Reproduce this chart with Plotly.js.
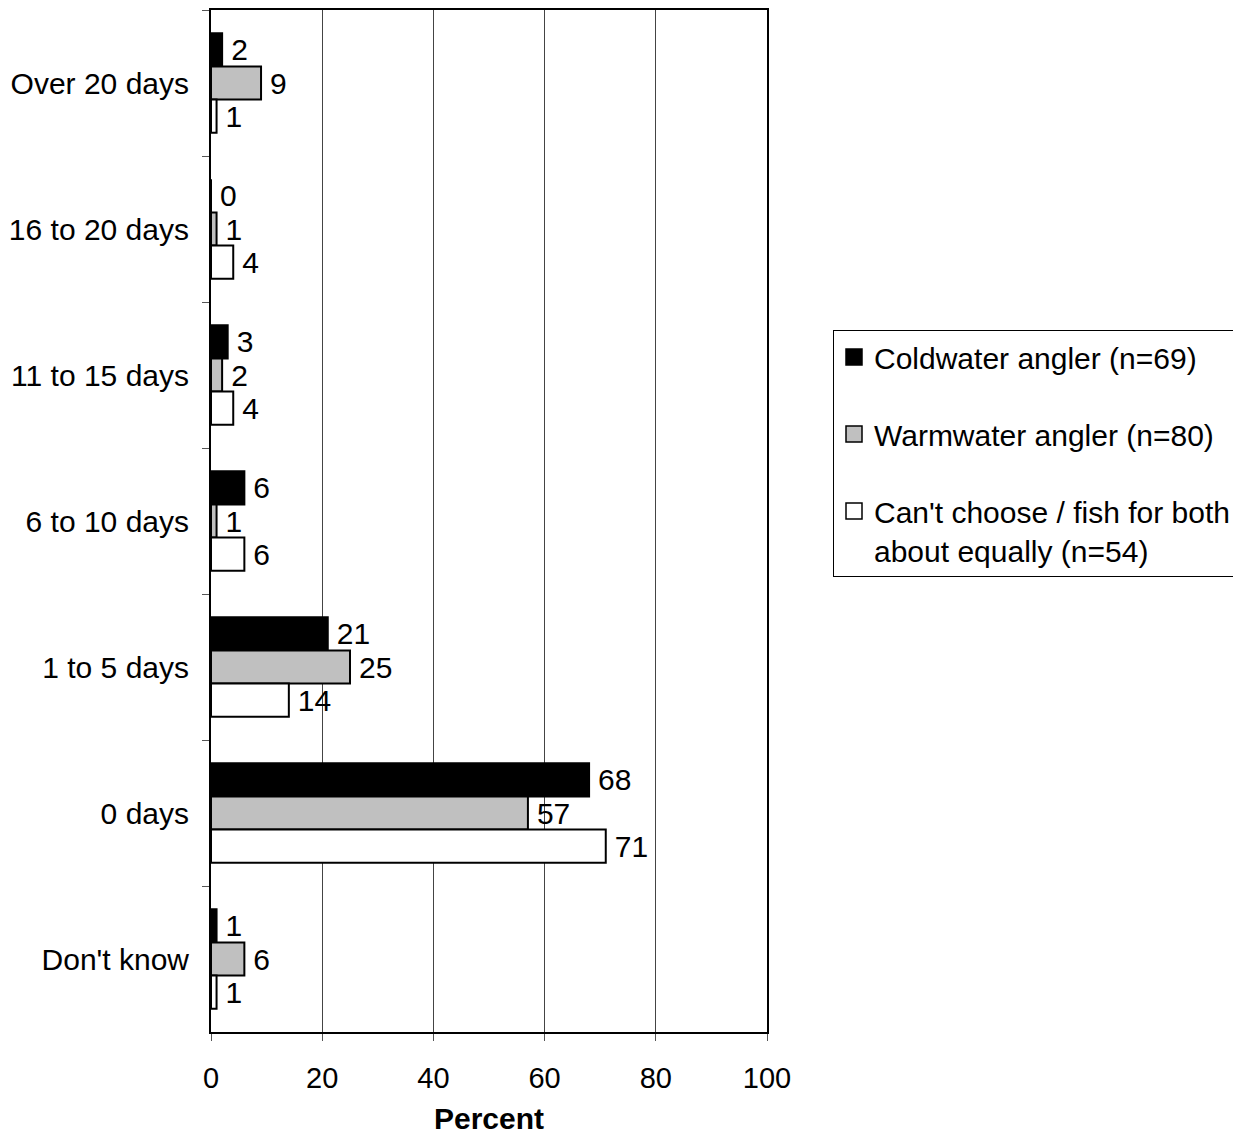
<!DOCTYPE html>
<html>
<head>
<meta charset="utf-8">
<script src="https://cdn.plot.ly/plotly-3.0.1.min.js"></script>
<style>html,body{margin:0;padding:0;background:#fff;}#chart{width:1233px;height:1139px;}</style>
</head>
<body>
<div id="chart"></div>
<script>
var categories = ["Over 20 days", "16 to 20 days", "11 to 15 days", "6 to 10 days", "1 to 5 days", "0 days", "Don't know"];
var seriesNames = ["Coldwater angler (n=69)", "Warmwater angler (n=80)", "Can't choose / fish for both<br>about equally (n=54)"];
var coldwater = [2, 0, 3, 6, 21, 68, 1];
var warmwater = [9, 1, 2, 1, 25, 57, 6];
var cantChoose = [1, 4, 4, 6, 14, 71, 1];
var xTicks = [0, 20, 40, 60, 80, 100];
var xTitle = "Percent";

var FONT = "Arial, 'Liberation Sans', sans-serif";
var fills = ["#000000", "#c0c0c0", "#ffffff"];
var series = [coldwater, warmwater, cantChoose];

var traces = series.map(function (vals, i) {
  return {
    type: "bar",
    orientation: "h",
    name: seriesNames[i],
    legendgroup: "g" + i,
    showlegend: false,
    y: categories,
    x: vals,
    text: vals.map(function (v) { return "\u2009" + v; }),
    texttemplate: "%{text}",
    textposition: "outside",
    constraintext: "none",
    cliponaxis: false,
    outsidetextfont: { family: FONT, size: 30, color: "#000" },
    marker: { color: fills[i], line: { color: "#000", width: 2 } },
    hoverinfo: "x+y+name"
  };
});

// legend entries (square swatches like the original)
series.forEach(function (vals, i) {
  traces.push({
    type: "scatter",
    mode: "markers",
    name: seriesNames[i],
    legendgroup: "g" + i,
    showlegend: true,
    x: [null],
    y: [null],
    marker: { symbol: "square", size: 19, color: fills[i], line: { color: "#000", width: 1.5 } },
    hoverinfo: "skip"
  });
});

var layout = {
  width: 1233,
  height: 1139,
  paper_bgcolor: "#fff",
  plot_bgcolor: "#fff",
  font: { family: FONT, size: 30, color: "#000" },
  margin: { l: 211, r: 466, t: 10, b: 107, autoexpand: false },
  barmode: "group",
  bargap: 0.32,
  bargroupgap: 0,
  showlegend: true,
  legend: {
    x: (833 - 211) / 556,
    xanchor: "left",
    y: (1032 - 330) / 1022,
    yanchor: "top",
    traceorder: "grouped",
    tracegroupgap: 35,
    valign: "top",
    itemsizing: "trace",
    bordercolor: "#000",
    borderwidth: 1,
    bgcolor: "#fff",
    font: { family: FONT, size: 30, color: "#000" }
  },
  annotations: [{
    text: "<b>" + xTitle + "</b>",
    xref: "paper", yref: "paper",
    x: 0.5, y: (1032 - 1118) / 1022,
    xanchor: "center", yanchor: "middle",
    showarrow: false,
    font: { family: FONT, size: 30, color: "#000" }
  }],
  xaxis: {
    range: [0, 100],
    tickvals: xTicks,
    ticktext: xTicks.map(String),
    ticks: "outside",
    ticklen: 7,
    tickwidth: 1,
    tickcolor: "#555",
    showgrid: true,
    gridcolor: "#444",
    gridwidth: 1,
    showline: true,
    linecolor: "#000",
    linewidth: 2,
    mirror: true,
    zeroline: false,
    ticklabelstandoff: 12,
    tickfont: { family: FONT, size: 29, color: "#000" }
  },
  yaxis: {
    type: "category",
    autorange: "reversed",
    categoryorder: "array",
    categoryarray: categories,
    tickson: "boundaries",
    ticks: "outside",
    ticklen: 7,
    tickwidth: 1,
    tickcolor: "#555",
    showgrid: false,
    showline: true,
    linecolor: "#000",
    linewidth: 2,
    mirror: true,
    zeroline: false,
    ticklabelstandoff: 14,
    tickfont: { family: FONT, size: 30, color: "#000" }
  }
};

Plotly.newPlot("chart", traces, layout, { displayModeBar: false, staticPlot: true });
</script>
</body>
</html>
